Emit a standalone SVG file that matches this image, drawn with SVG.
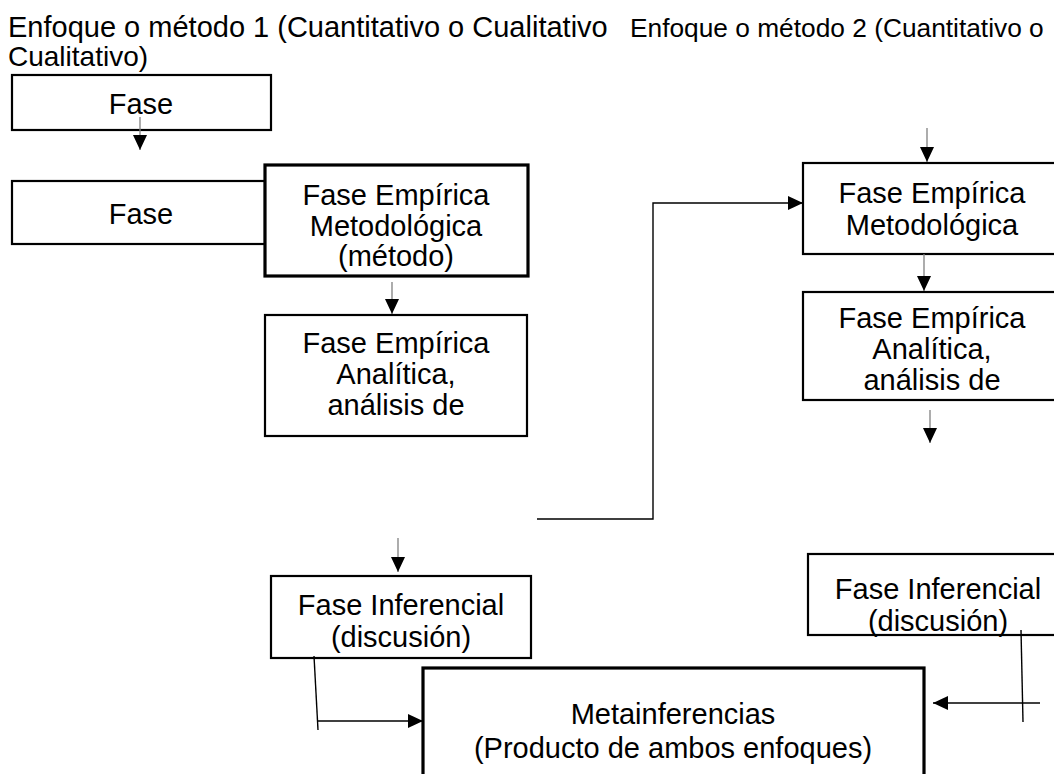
<svg xmlns="http://www.w3.org/2000/svg" width="1054" height="774" viewBox="0 0 1054 774">
<defs>
<style>
text{font-family:"Liberation Sans",Arial,sans-serif;fill:#000;}
.t{font-size:29px;text-anchor:middle;}
.box{fill:#fff;stroke:#000;stroke-width:2.2;}
.thick{stroke-width:3.2;}
.short{stroke:#808080;stroke-width:1.3;fill:none;}
.conn{stroke:#000;stroke-width:1.4;fill:none;}
</style>
<marker id="ah" markerUnits="userSpaceOnUse" markerWidth="15" markerHeight="14" refX="15" refY="7" orient="auto" viewBox="0 0 15 14">
<path d="M0,0 L15,7 L0,14 z" fill="#000"/>
</marker>
</defs>
<rect width="1054" height="774" fill="#fff"/>
<g id="titles">
<text x="8" y="37" style="font-size:29px">Enfoque o método 1 (Cuantitativo o Cualitativo</text>
<text x="630" y="37" style="font-size:26.3px">Enfoque o método 2 (Cuantitativo o</text>
<text x="8" y="66" style="font-size:28px">Cualitativo)</text>
</g>
<g id="fase1">
<rect class="box" x="12" y="75" width="259" height="55"/>
<text class="t" x="141" y="114">Fase</text>
</g>
<g id="fase2">
<rect class="box" x="12" y="181" width="253" height="63"/>
<text class="t" x="141" y="224">Fase</text>
</g>
<g id="emp-met-1">
<rect class="box thick" x="265" y="165" width="263" height="111"/>
<text class="t" x="396" y="205">Fase Empírica</text>
<text class="t" x="396" y="236">Metodológica</text>
<text class="t" x="396" y="266">(método)</text>
</g>
<g id="emp-ana-1">
<rect class="box" x="265" y="315" width="262" height="121"/>
<text class="t" x="396" y="353">Fase Empírica</text>
<text class="t" x="396" y="384">Analítica,</text>
<text class="t" x="396" y="415">análisis de</text>
</g>
<g id="emp-met-2">
<rect class="box" x="803" y="163" width="262" height="91"/>
<text class="t" x="932" y="203">Fase Empírica</text>
<text class="t" x="932" y="235">Metodológica</text>
</g>
<g id="emp-ana-2">
<rect class="box" x="803" y="292" width="262" height="108"/>
<text class="t" x="932" y="328">Fase Empírica</text>
<text class="t" x="932" y="359">Analítica,</text>
<text class="t" x="932" y="390">análisis de</text>
</g>
<g id="inf-1">
<rect class="box" x="271" y="576" width="260" height="82"/>
<text class="t" x="401" y="615">Fase Inferencial</text>
<text class="t" x="401" y="647">(discusión)</text>
</g>
<g id="inf-2">
<rect class="box" x="808" y="554" width="262" height="81"/>
<text class="t" x="938" y="599">Fase Inferencial</text>
<text class="t" x="938" y="631">(discusión)</text>
</g>
<g id="meta">
<rect class="box thick" x="423" y="668" width="501" height="130"/>
<text class="t" x="673" y="724">Metainferencias</text>
<text class="t" x="673" y="758">(Producto de ambos enfoques)</text>
</g>
<g id="connectors">
<line class="short" x1="140" y1="117" x2="140" y2="150" marker-end="url(#ah)"/>
<line class="short" x1="392" y1="282" x2="392" y2="314" marker-end="url(#ah)"/>
<line class="short" x1="927" y1="128" x2="927" y2="162" marker-end="url(#ah)"/>
<line class="short" x1="924" y1="254" x2="924" y2="291" marker-end="url(#ah)"/>
<line class="short" x1="930" y1="410" x2="930" y2="443" marker-end="url(#ah)"/>
<line class="short" x1="398" y1="538" x2="398" y2="572" marker-end="url(#ah)"/>
<polyline class="conn" points="537,519 653,519 653,203 803,203" marker-end="url(#ah)"/>
<line class="conn" x1="314" y1="656" x2="318" y2="730"/>
<line class="conn" x1="318" y1="721" x2="423" y2="721" marker-end="url(#ah)"/>
<line class="conn" x1="1021" y1="630" x2="1023" y2="722"/>
<line class="conn" x1="1040" y1="703" x2="933" y2="703" marker-end="url(#ah)"/>
</g>
</svg>
